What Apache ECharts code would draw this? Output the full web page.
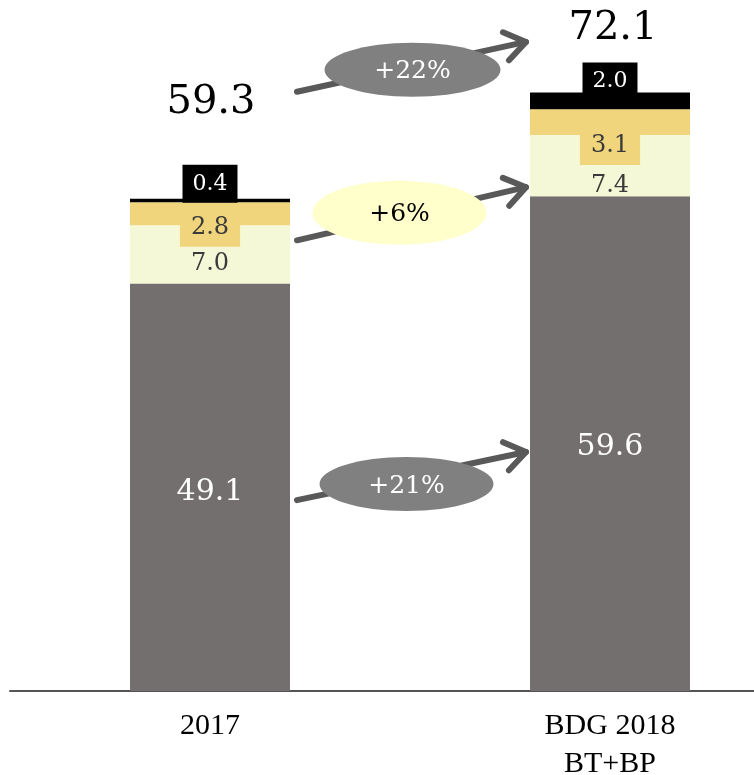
<!DOCTYPE html>
<html><head><meta charset="utf-8">
<script src="https://cdn.jsdelivr.net/npm/echarts@6/dist/echarts.min.js"></script>
<style>html,body{margin:0;padding:0;background:#fff}#c{width:754px;height:775px}</style>
</head><body><div id="c"></div>
<script>
// ---- data ----
const categories = ['2017', 'BDG 2018\nBT+BP'];
const baseValues = [49.1, 59.6];
const midValues = [7.0, 7.4];
const upperValues = [2.8, 3.1];
const topValues = [0.4, 2.0];
const totals = [59.3, 72.1];
const growthLabels = ['+21%', '+6%', '+22%'];

// ---- styling / layout (not data) ----
const NUM_FONT = 'DejaVu Serif';
const AX_FONT = 'Liberation Serif';
const BAR_W = 160;
const baseOffsets = [[0, 5], [0, 4]];
const midOffsets = [[0, 9], [0, 20]];
const upperOffsets = [[0, 14], [0, 24]];
const topDistances = [-4, -8];
const totalOffsets = [[1, -96], [3, -64]];

function items(vals, fn) { return vals.map((v, i) => Object.assign({ value: v }, fn(i))); }

const chart = echarts.init(document.getElementById('c'), null, { renderer: 'canvas' });
chart.setOption({
  animation: false,
  grid: { left: 10, right: -56, top: 27, bottom: 84, containLabel: false, outerBoundsMode: 'none' },
  xAxis: {
    type: 'category', data: categories,
    axisTick: { show: false },
    axisLine: { lineStyle: { color: '#555', width: 2 } },
    axisLabel: { margin: 16, fontSize: 30, lineHeight: 38, color: '#000', fontFamily: AX_FONT, interval: 0 }
  },
  yAxis: { type: 'value', min: 0, max: 80, show: false },
  series: [
    { type: 'bar', stack: 's', barWidth: BAR_W, itemStyle: { color: '#736f6e' },
      data: items(baseValues, i => ({ label: { offset: baseOffsets[i] } })),
      label: { show: true, position: 'inside', color: '#fff', fontSize: 30, fontFamily: NUM_FONT, formatter: p => p.value.toFixed(1) } },
    { type: 'bar', stack: 's', barWidth: BAR_W, itemStyle: { color: '#f5f8d6' },
      data: items(midValues, i => ({ label: { offset: midOffsets[i] } })),
      label: { show: true, position: 'inside', color: '#3a3a3a', fontSize: 24, fontFamily: NUM_FONT, formatter: p => p.value.toFixed(1) } },
    { type: 'bar', stack: 's', barWidth: BAR_W, itemStyle: { color: '#f0d57d' },
      data: items(upperValues, i => ({ label: { offset: upperOffsets[i] } })),
      label: { show: true, position: 'inside', color: '#3a3a3a', fontSize: 24, lineHeight: 24, fontFamily: NUM_FONT,
        backgroundColor: '#f0d57d', padding: [7, 11, 7, 11], formatter: p => p.value.toFixed(1) } },
    { type: 'bar', stack: 's', barWidth: BAR_W, itemStyle: { color: '#000' },
      data: items(topValues, i => ({ label: { distance: topDistances[i] } })),
      label: { show: true, position: 'top', color: '#fff', fontSize: 22, lineHeight: 24, fontFamily: NUM_FONT,
        backgroundColor: '#000', padding: [7, 10, 7, 10], formatter: p => p.value.toFixed(1) } },
    { type: 'scatter', symbolSize: 0, silent: true, z: 5, itemStyle: { opacity: 1, color: '#000' },
      data: items(totals, i => ({ label: { offset: totalOffsets[i] } })),
      label: { show: true, position: 'inside', color: '#000', opacity: 1, fontSize: 40, fontFamily: NUM_FONT, formatter: p => p.value.toFixed(1) } }
  ]
});

// ---- growth arrows (annotations placed through the chart's scales) ----
const arrowCfg = [
  { fromV: 23.0, toV: 28.8, fill: '#808080', text: '#fff', dx: -5, dy: 8, rx: 87, ry: 27 },
  { fromV: 54.3, toV: 60.7, fill: '#ffffcc', text: '#000', dx: -12, dy: -1, rx: 87, ry: 32 },
  { fromV: 72.2, toV: 78.2, fill: '#808080', text: '#fff', dx: 1, dy: 3, rx: 88, ry: 27 }
];
const els = [];
arrowCfg.forEach((a, k) => {
  const p0 = chart.convertToPixel({ gridIndex: 0 }, [0, a.fromV]);
  const p1 = chart.convertToPixel({ gridIndex: 0 }, [1, a.toV]);
  const x0 = p0[0] + BAR_W / 2 + 7, y0 = p0[1];
  const x1 = p1[0] - BAR_W / 2 - 4, y1 = p1[1];
  const ang = Math.atan2(y0 - y1, x0 - x1);
  const L = 25, da = 35 * Math.PI / 180;
  const arm1 = [x1 + L * Math.cos(ang + da), y1 + L * Math.sin(ang + da)];
  const arm2 = [x1 + L * Math.cos(ang - da), y1 + L * Math.sin(ang - da)];
  const ls = { stroke: '#595959', lineWidth: 6, lineCap: 'round', lineJoin: 'round', fill: null };
  els.push({ type: 'polyline', z: 10, shape: { points: [[x0, y0], [x1, y1]] }, style: ls });
  els.push({ type: 'polyline', z: 10, shape: { points: [arm1, [x1, y1], arm2] }, style: ls });
  const cx = (x0 + x1) / 2 + a.dx, cy = (y0 + y1) / 2 + a.dy;
  els.push({ type: 'ellipse', z: 11, shape: { cx: cx, cy: cy, rx: a.rx, ry: a.ry }, style: { fill: a.fill } });
  els.push({ type: 'text', z: 12, x: cx, y: cy + 2, style: { text: growthLabels[k], fill: a.text, font: '25px "' + NUM_FONT + '"', align: 'center', verticalAlign: 'middle' } });
});
chart.setOption({ graphic: els });
</script>
</body></html>
